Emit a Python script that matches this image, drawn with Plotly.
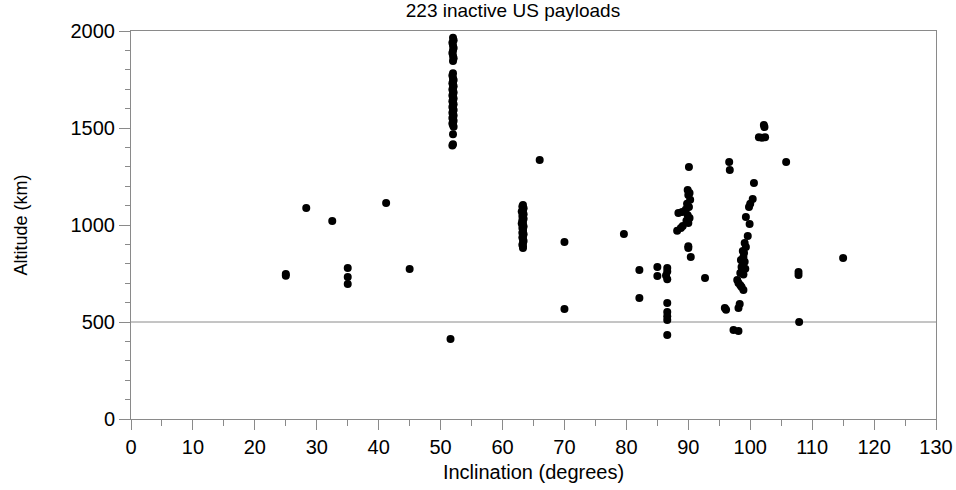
import plotly.graph_objects as go

# ---- data (inclination deg, altitude km) ----
scatter_inc = [25, 25, 28.3, 32.5, 35, 35, 35, 41.2, 45, 51.6, 66, 70, 70, 79.6, 82.1, 82.1,
               85, 85, 86.6, 86.6, 86.4, 86.6, 86.6, 86.6, 86.6, 86.6, 86.6, 92.7]
scatter_alt = [748, 738, 1088, 1020, 778, 732, 696, 1113, 773, 412, 1335, 912, 567, 954, 768, 624,
               784, 737, 778, 760, 740, 720, 598, 551, 530, 510, 433, 727]

col52_alt = [1965, 1952, 1940, 1925, 1912, 1900, 1887, 1873, 1860, 1845, 1782, 1770, 1756, 1748,
             1740, 1731, 1722, 1715, 1706, 1698, 1690, 1683, 1675, 1668, 1660, 1652, 1645, 1638,
             1630, 1622, 1615, 1608, 1600, 1593, 1586, 1579, 1572, 1565, 1558, 1551, 1544, 1537,
             1530, 1523, 1515, 1507, 1468, 1416, 1410]
col52_inc = [52.0, 52.1, 51.9, 52.0, 52.1, 52.0, 51.9, 52.0, 52.1, 52.0, 52.0, 51.9, 52.0, 52.1,
             52.0, 51.9, 52.0, 52.1, 52.0, 51.9, 52.0, 52.1, 52.0, 51.9, 52.0, 52.1, 52.0, 51.9,
             52.0, 52.1, 52.0, 51.9, 52.0, 52.1, 52.0, 51.9, 52.0, 52.1, 52.0, 51.9, 52.0, 52.1,
             52.0, 51.9, 52.0, 52.1, 52.0, 52.0, 51.9]

col63_alt = [1103, 1095, 1086, 1078, 1070, 1062, 1055, 1047, 1040, 1032, 1024, 1016, 1008, 1000,
             992, 984, 976, 968, 960, 952, 944, 936, 928, 918, 908, 898, 890, 882]
col63_inc = [63.3, 63.2, 63.4, 63.3, 63.1, 63.3, 63.4, 63.2, 63.3, 63.4, 63.2, 63.3, 63.1, 63.3,
             63.4, 63.2, 63.3, 63.3, 63.2, 63.4, 63.3, 63.2, 63.3, 63.4, 63.3, 63.2, 63.3, 63.3]

polar90_inc = [90.1, 89.9, 90.2, 90.0, 90.3, 89.8, 90.1, 89.6, 89.0, 88.4, 89.9, 90.2, 89.7,
               90.0, 89.1, 88.8, 88.2, 90.0, 90.0, 90.4]
polar90_alt = [1299, 1180, 1165, 1155, 1130, 1110, 1093, 1080, 1067, 1062, 1050, 1036, 1022,
               1010, 995, 985, 970, 890, 881, 835]

sso_inc = [102.2, 102.3, 101.4, 101.9, 102.4, 96.6, 96.7, 105.8, 100.6, 100.4, 100.0, 99.8, 99.3,
           99.9, 99.6, 99.1, 99.3, 98.8, 99.0, 98.9, 98.5, 99.1, 98.8, 98.6, 99.2, 98.7, 98.4,
           98.9, 97.9, 98.1, 98.4, 98.6, 98.9, 98.3, 98.1, 95.9, 96.1, 97.3, 98.1, 107.8, 107.8,
           107.9, 115.0]
sso_alt = [1515, 1505, 1452, 1450, 1452, 1325, 1283, 1325, 1216, 1134, 1110, 1093, 1041,
           1005, 943, 907, 887, 866, 856, 835, 820, 810, 804, 784, 775, 768, 753,
           745, 716, 701, 690, 680, 665, 593, 572, 572, 563, 459, 454, 758, 742,
           500, 830]

x_ticks = list(range(0, 131, 10))
y_ticks = [0, 500, 1000, 1500, 2000]

inc = scatter_inc + col52_inc + col63_inc + polar90_inc + sso_inc
alt = scatter_alt + col52_alt + col63_alt + polar90_alt + sso_alt

GRAY = "#8a8a8a"
FONT = "Liberation Sans, Arial, Helvetica, sans-serif"

fig = go.Figure(go.Scatter(
    x=inc, y=alt, mode="markers",
    marker=dict(color="black", size=8, line=dict(width=0)),
    hoverinfo="x+y", showlegend=False,
))

fig.add_shape(type="line", xref="x", yref="y", x0=0, x1=130, y0=500, y1=500,
              line=dict(color=GRAY, width=1), layer="below")

fig.update_layout(
    width=956, height=490,
    margin=dict(l=131, r=20, t=31, b=71, autoexpand=False),
    paper_bgcolor="white", plot_bgcolor="white",
    font=dict(family=FONT, color="black", size=18),
    title=dict(text="223 inactive US payloads", x=513 / 956, xref="container",
               xanchor="center", y=1, yref="container", yanchor="top", pad=dict(t=4),
               font=dict(size=19, color="black")),
)
fig.update_xaxes(
    range=[0, 130], tickvals=x_ticks, ticks="outside", ticklen=10, tickcolor=GRAY, tickwidth=1,
    showline=True, linecolor=GRAY, linewidth=1, mirror=True, showgrid=False, zeroline=False,
    automargin=False,
    minor=dict(dtick=5, tick0=0, ticks="outside", ticklen=6, tickcolor=GRAY, showgrid=False),
    title=dict(text="Inclination (degrees)", font=dict(size=20), standoff=7),
    tickfont=dict(size=20),
)
fig.update_yaxes(
    range=[0, 2000], tickvals=y_ticks, ticks="outside", ticklen=11, tickcolor=GRAY, tickwidth=1,
    showline=True, linecolor=GRAY, linewidth=1, mirror=True, showgrid=False, zeroline=False,
    automargin=False,
    minor=dict(dtick=100, tick0=0, ticks="outside", ticklen=5, tickcolor=GRAY, showgrid=False),
    title=dict(text="Altitude (km)", font=dict(size=18), standoff=38),
    tickfont=dict(size=20),
)
fig.write_html("out.html")
